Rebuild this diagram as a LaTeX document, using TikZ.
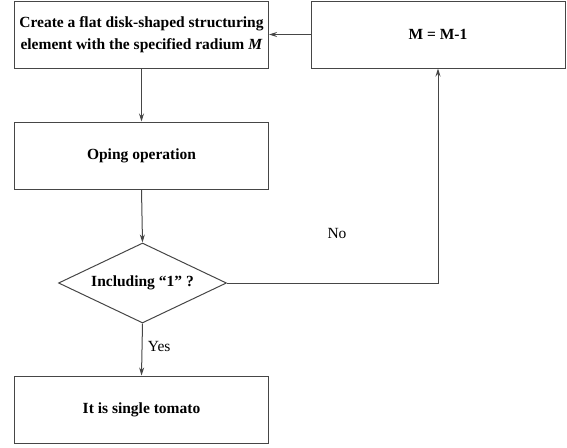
\documentclass[tikz,border=0pt]{standalone}
\usepackage{fontspec}
\setmainfont{Liberation Serif}
\usepackage{tikz}
\usetikzlibrary{shapes.geometric, arrows.meta, positioning}
\definecolor{flowline}{RGB}{70, 70, 70}

\tikzset{
  procbox/.style={rectangle, draw=flowline, line width=1pt, align=center,
    minimum width=254pt, minimum height=67pt, inner sep=0pt,
    font=\fontsize{15.5}{22}\selectfont\bfseries},
  decide/.style={diamond, draw=flowline, line width=1pt, aspect=2.1,
    minimum width=168pt, minimum height=80pt, inner sep=0pt,
    font=\fontsize{15.5}{22}\selectfont\bfseries},
  flow/.style={draw=flowline, line width=1pt, -{Stealth[length=8pt, width=5pt]}},
  branch/.style={font=\fontsize{15.5}{18}\selectfont}
}

\begin{document}
\begin{tikzpicture}[x=1pt, y=-1pt]
  \useasboundingbox (0,0) rectangle (567,447);

  \node[procbox] (create) at (141.5,34.5) {Create a flat disk-shaped structuring\\
    element with the specified radium \textit{M}};
  \node[procbox] (update) at (438,34.5) {M = M-1};
  \node[procbox] (oping) at (141.5,155.5) {Oping operation};
  \node[decide] (check) at (142.5,283) {Including “1” ?};
  \node[procbox] (single) at (141.5,409.5) {It is single tomato};

  \draw[flow] (update.west) -- (create.east);
  \draw[flow] (create.south) -- (oping.north);
  \draw[flow] (oping.south) -- (check.north);
  \draw[flow] (check.south) -- node[branch, right=2pt, pos=0.45] {Yes} (single.north);
  \draw[flow] (check.east) -| (update.south);
  \node[branch] (nolabel) at (337,233) {No};
\end{tikzpicture}
\end{document}
